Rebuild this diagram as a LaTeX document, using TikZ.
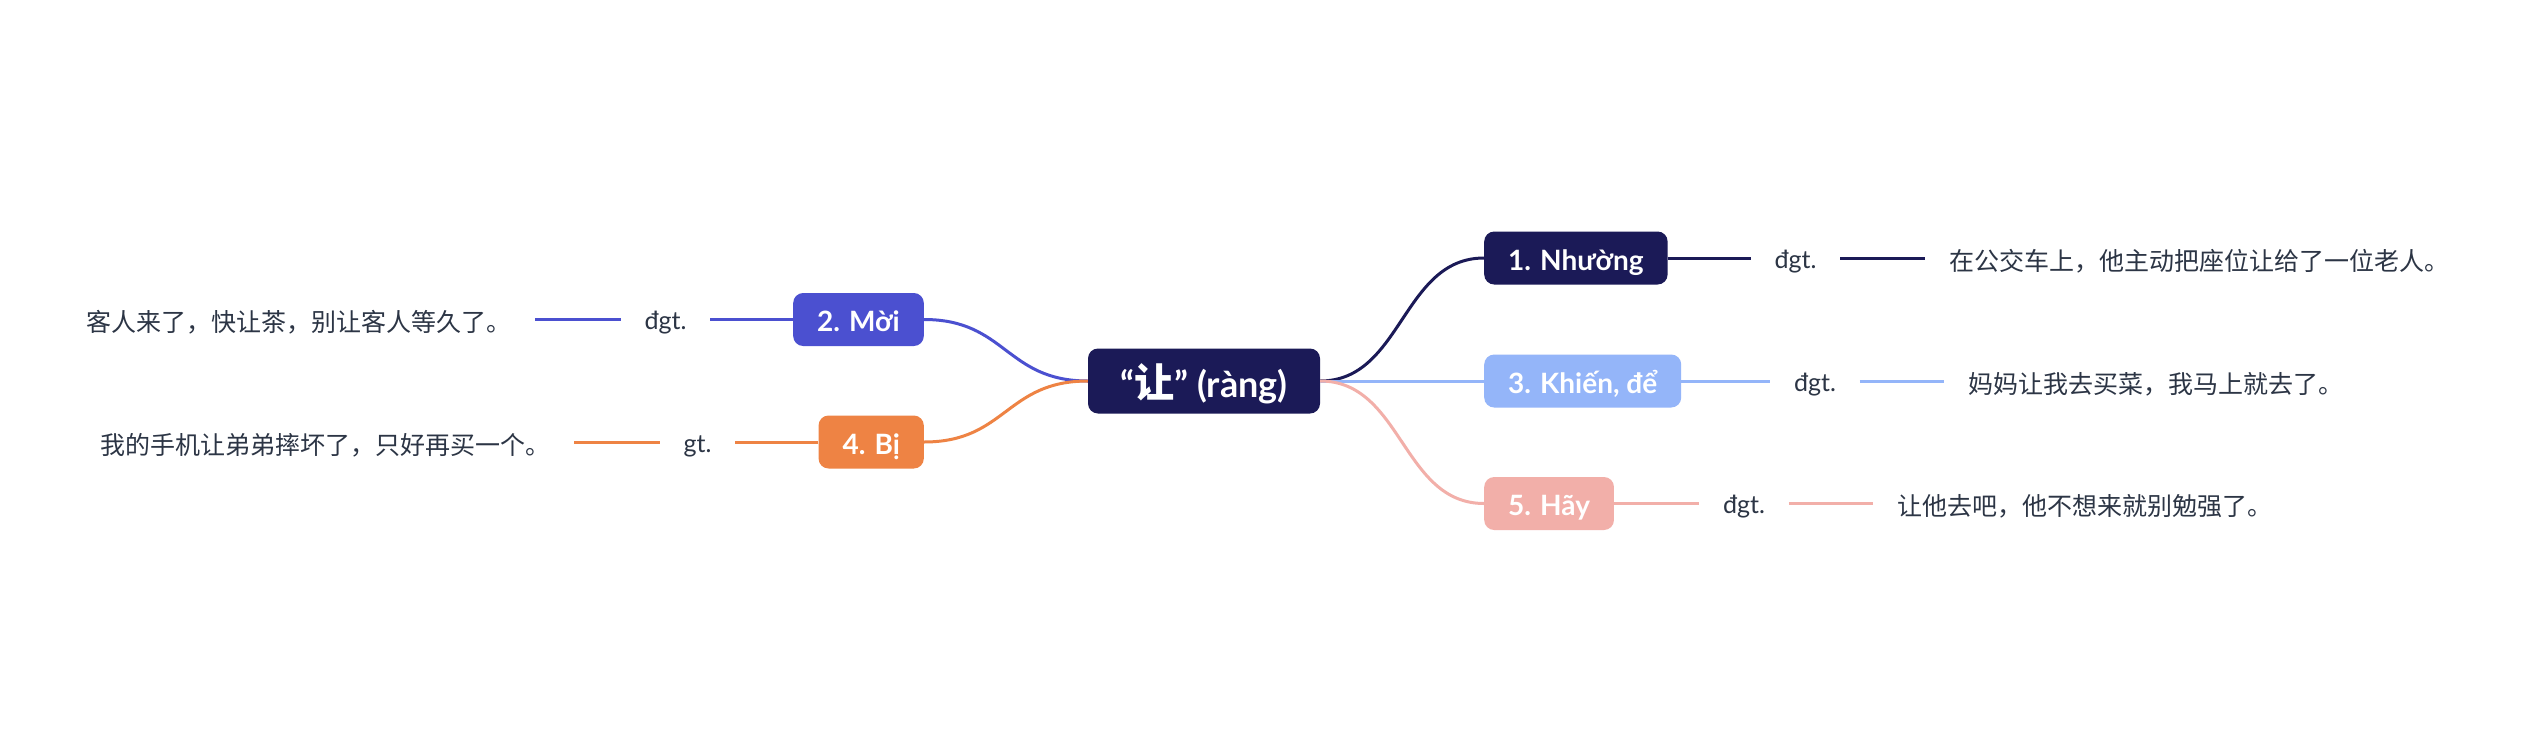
\documentclass[tikz,border=0pt]{standalone}
\usepackage{fontspec}
\setmainfont{Lato}
\newfontfamily\cjk{Noto Sans CJK SC}
\definecolor{cnavy}{HTML}{1B1A57}
\definecolor{cviolet}{HTML}{4B50D0}
\definecolor{clblue}{HTML}{94B5F9}
\definecolor{corange}{HTML}{EE8344}
\definecolor{cpink}{HTML}{F2AFA9}
\definecolor{ctext}{HTML}{2C3545}
\tikzset{
  rootbox/.style={fill=cnavy, rounded corners=10pt, text=white, inner xsep=26pt, inner ysep=0pt,
    minimum height=65pt, minimum width=232pt, text height=38pt, text depth=6pt,
    font=\fontsize{36pt}{40pt}\selectfont\bfseries},
  topicbox/.style={fill=#1, rounded corners=10pt, text=white, inner xsep=24pt, inner ysep=0pt,
    minimum height=53pt, text height=30pt, text depth=6pt,
    font=\fontsize{28pt}{32pt}\selectfont\bfseries},
  tag/.style={text=ctext, inner sep=0pt, outer xsep=24pt, text height=25pt, text depth=5pt,
    font=\fontsize{25pt}{30pt}\selectfont},
  sent/.style={text=ctext, inner sep=0pt, outer xsep=24pt, text height=29pt, text depth=5pt,
    font=\fontsize{25pt}{30pt}\selectfont\cjk},
  link/.style={draw=#1, line width=3pt},
}
\begin{document}
\begin{tikzpicture}[x=1pt,y=-1pt]
\useasboundingbox[fill=white] (0,0) rectangle (2531,731);

% root
\node[rootbox] (root) at (1204,381) {“{\cjk\fontsize{40pt}{40pt}\selectfont 让}” (ràng)};

% right topics
\node[topicbox=cnavy, anchor=west] (n1) at (1484,258) {1. Nhường};
\node[topicbox=clblue, anchor=west] (n3) at (1484,381) {3. Khiến, để};
\node[topicbox=cpink, anchor=west] (n5) at (1484,503.5) {5. Hãy};
% left topics
\node[topicbox=cviolet, anchor=east] (n2) at (924,319.5) {2. Mời};
\node[topicbox=corange, anchor=east] (n4) at (924,442) {4. Bị};

% tags
\node[tag] (d1) at (1795.5,258) {đgt.};
\node[tag] (d3) at (1815,381) {đgt.};
\node[tag] (d5) at (1744,503.5) {đgt.};
\node[tag] (d2) at (665.5,319.5) {đgt.};
\node[tag] (d4) at (697.5,442) {gt.};

% sentences
\node[sent, anchor=west] (s1) at (1925,258) {在公交车上，他主动把座位让给了一位老人。};
\node[sent, anchor=west] (s3) at (1944,381) {妈妈让我去买菜，我马上就去了。};
\node[sent, anchor=west] (s5) at (1873,503.5) {让他去吧，他不想来就别勉强了。};
\node[sent, anchor=east] (s2) at (535,319.5) {客人来了，快让茶，别让客人等久了。};
\node[sent, anchor=east] (s4) at (574,442) {我的手机让弟弟摔坏了，只好再买一个。};

% curved links from root
\draw[link=cnavy] (root.east) .. controls +(82,0) and +(-82,0) .. (n1.west);
\draw[link=clblue] (root.east) -- (n3.west);
\draw[link=cpink] (root.east) .. controls +(82,0) and +(-82,0) .. (n5.west);
\draw[link=cviolet] (root.west) .. controls +(-82,0) and +(82,0) .. (n2.east);
\draw[link=corange] (root.west) .. controls +(-82,0) and +(82,0) .. (n4.east);

% leaf links
\draw[link=cnavy] (n1.east) -- (d1.west);
\draw[link=cnavy] (d1.east) -- (s1.west);
\draw[link=clblue] (n3.east) -- (d3.west);
\draw[link=clblue] (d3.east) -- (s3.west);
\draw[link=cpink] (n5.east) -- (d5.west);
\draw[link=cpink] (d5.east) -- (s5.west);
\draw[link=cviolet] (n2.west) -- (d2.east);
\draw[link=cviolet] (d2.west) -- (s2.east);
\draw[link=corange] (n4.west) -- (d4.east);
\draw[link=corange] (d4.west) -- (s4.east);
\end{tikzpicture}
\end{document}
